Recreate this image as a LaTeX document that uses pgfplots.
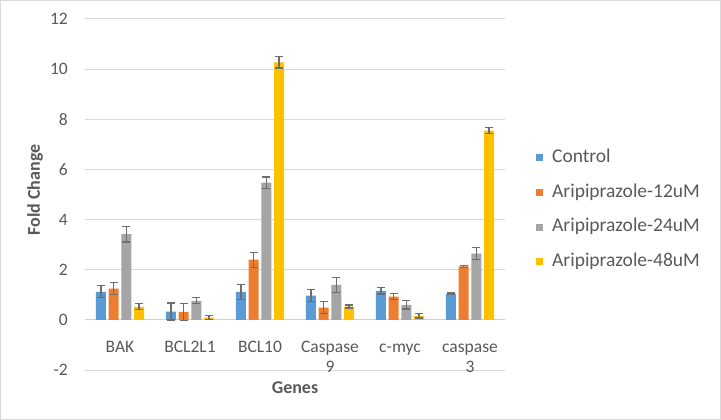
\documentclass[border=0pt]{standalone}
\usepackage{fontspec}
\setmainfont{Carlito}
\usepackage{pgfplots}
\pgfplotsset{compat=1.18}
\definecolor{cblue}{HTML}{5B9BD5}
\definecolor{corange}{HTML}{ED7D31}
\definecolor{cgray}{HTML}{A5A5A5}
\definecolor{cyellow}{HTML}{FFC000}
\definecolor{gridc}{HTML}{D9D9D9}
\definecolor{zeroc}{HTML}{D0D0D0}
\definecolor{errc}{HTML}{6E6E6E}
\definecolor{txtc}{HTML}{595959}
\begin{document}
\begin{tikzpicture}
\useasboundingbox (0,0) rectangle (721bp,420bp);
\draw[gridc, line width=1bp] (0.5bp,0.5bp) rectangle (720.5bp,419.5bp);
\begin{axis}[
  at={(85bp,50bp)}, anchor=south west,
  scale only axis, width=420bp, height=351bp,
  ymin=-2, ymax=12, ytick={-2,0,2,4,6,8,10,12},
  xmin=-0.5, xmax=5.5, xtick={0,1,2,3,4,5},
  xticklabels={\strut BAK,\strut BCL2L1,\strut BCL10,{\strut Caspase\\9},\strut c-myc,{\strut caspase\\3}},
  axis line style={draw=none},
  tick style={draw=none},
  ymajorgrids, grid style={gridc, line width=1bp},
  extra y ticks={0}, extra y tick labels={},
  extra y tick style={grid style={zeroc, line width=1.2bp}},
  /pgf/number format/assume math mode=true,
  yticklabel style={anchor=east, inner sep=0pt, xshift=-17bp, font=\fontsize{17.5bp}{21bp}\selectfont, text=txtc},
  xticklabel style={anchor=north, inner sep=0pt, yshift=36bp, align=center, font=\fontsize{17.5bp}{20bp}\selectfont, text=txtc},
  ylabel={Fold Change}, xlabel={Genes},
  every axis y label/.style={at={(axis description cs:0,0.5)}, xshift=-50bp, yshift=4.5bp, rotate=90, anchor=center, font=\bfseries\fontsize{18bp}{21bp}\selectfont, text=txtc},
  every axis x label/.style={at={(axis description cs:0.5,0)}, yshift=-18bp, anchor=center, font=\bfseries\fontsize{18bp}{21bp}\selectfont, text=txtc},
  ybar=2.7bp, bar width=10bp,
  error bars/y dir=both, error bars/y explicit,
  error bars/error mark=|,
  error bars/error bar style={line width=1.3bp, color=errc},
  error bars/error mark options={line width=1.3bp, mark size=4bp, color=errc},
  legend style={at={(axis description cs:1,0.456)}, anchor=west, xshift=31bp, draw=none, fill=none, inner sep=0pt, row sep=17.7bp, column sep=9bp, font=\fontsize{19.5bp}{23bp}\selectfont, text=txtc, nodes={inner sep=0pt, text height=13bp, text depth=4bp}},
  legend cell align=left,
  legend image code/.code={\fill[#1, draw=none] (0bp,-3.5bp) rectangle (7bp,3.5bp);},
]
\addplot[fill=cblue, draw=none] coordinates {
 (0,1.12) +- (0,0.24) (1,0.33) +- (0,0.34) (2,1.12) +- (0,0.30)
 (3,0.97) +- (0,0.25) (4,1.16) +- (0,0.13) (5,1.04) +- (0,0.03)};
\addplot[fill=corange, draw=none] coordinates {
 (0,1.25) +- (0,0.23) (1,0.32) +- (0,0.34) (2,2.40) +- (0,0.30)
 (3,0.49) +- (0,0.23) (4,0.93) +- (0,0.13) (5,2.13) +- (0,0.03)};
\addplot[fill=cgray, draw=none] coordinates {
 (0,3.42) +- (0,0.31) (1,0.76) +- (0,0.12) (2,5.47) +- (0,0.23)
 (3,1.40) +- (0,0.30) (4,0.60) +- (0,0.17) (5,2.64) +- (0,0.24)};
\addplot[fill=cyellow, draw=none] coordinates {
 (0,0.52) +- (0,0.12) (1,0.09) +- (0,0.07) (2,10.27) +- (0,0.23)
 (3,0.53) +- (0,0.06) (4,0.16) +- (0,0.09) (5,7.55) +- (0,0.12)};
\legend{Control,Aripiprazole-12uM,Aripiprazole-24uM,Aripiprazole-48uM}
\end{axis}
\end{tikzpicture}
\end{document}
